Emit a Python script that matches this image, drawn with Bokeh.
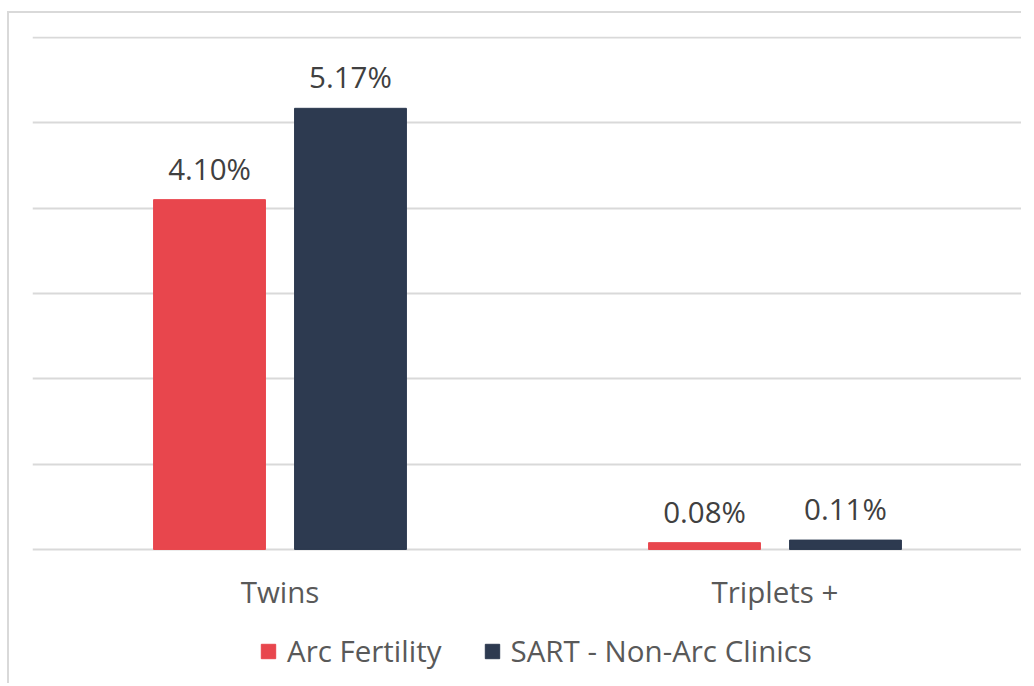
from bokeh.plotting import figure
from bokeh.models import ColumnDataSource, FactorRange, Legend, LegendItem, LabelSet, FixedTicker
from bokeh.core.properties import value
from bokeh.transform import dodge
from bokeh.embed import file_html
from bokeh.resources import INLINE

categories = ["Twins", "Triplets +"]
series_names = ["Arc Fertility", "SART - Non-Arc Clinics"]
arc_values = [4.10, 0.08]
sart_values = [5.17, 0.11]
arc_labels = ["4.10%", "0.08%"]
sart_labels = ["5.17%", "0.11%"]
colors = ["#E8464D", "#2D3A50"]

FONT = "Open Sans"
FS = "29.5px"

src = ColumnDataSource(dict(cat=categories, arc=arc_values, sart=sart_values,
                            arc_lab=arc_labels, sart_lab=sart_labels, zero=[0, 0]))

W, H = 1014, 672
top_b = 23
ppu = 85.33
pad = 1 / ppu
frame_h = H - top_b
y_start = 6 + pad - frame_h / ppu

p = figure(width=W, height=H, x_range=FactorRange(*categories, range_padding=0, factor_padding=0),
           y_range=(y_start, 6 + pad), output_backend="svg", toolbar_location=None,
           min_border_left=23, min_border_right=1, min_border_top=top_b, min_border_bottom=0)
p.outline_line_color = None
p.background_fill_color = "white"
p.border_fill_color = "white"
p.styles = {"margin-left": "7px", "margin-top": "11px",
            "border-left": "2px solid #d9d9d9", "border-top": "2px solid #d9d9d9"}

off = 0.1424
w = 0.226
r1 = p.vbar(x=dodge("cat", -off, range=p.x_range), top="arc", width=w, source=src, color=colors[0])
r2 = p.vbar(x=dodge("cat", off, range=p.x_range), top="sart", width=w, source=src, color=colors[1])

for col, lab, o in [("arc", "arc_lab", -off), ("sart", "sart_lab", off)]:
    ls = LabelSet(x=dodge("cat", o, range=p.x_range), y=col, text=lab, source=src,
                  text_align="center", text_baseline="bottom", y_offset=11,
                  text_font=value(FONT), text_font_size=value(FS), text_color="#404040")
    p.add_layout(ls)

# category labels under the bars
cat_labels = LabelSet(x="cat", y="zero", text="cat", source=src,
                      text_align="center", text_baseline="top", y_offset=-22,
                      text_font=value(FONT), text_font_size=value(FS), text_color="#595959")
p.add_layout(cat_labels)

p.xaxis.visible = False
p.yaxis.visible = False
p.ygrid.ticker = FixedTicker(ticks=[0, 1, 2, 3, 4, 5, 6])
p.ygrid.grid_line_color = "#d9d9d9"
p.ygrid.grid_line_width = 2
p.xgrid.grid_line_color = None

legend = Legend(items=[LegendItem(label=series_names[0], renderers=[r1]),
                       LegendItem(label=series_names[1], renderers=[r2])],
                location=(227, 14), orientation="horizontal",
                glyph_width=18, glyph_height=18, label_standoff=10, spacing=41,
                label_text_font=FONT, label_text_font_size=FS, label_text_color="#595959",
                border_line_color=None, background_fill_alpha=0, padding=0, margin=0)
p.add_layout(legend, "center")

open("out.html", "w").write(file_html(p, INLINE))
